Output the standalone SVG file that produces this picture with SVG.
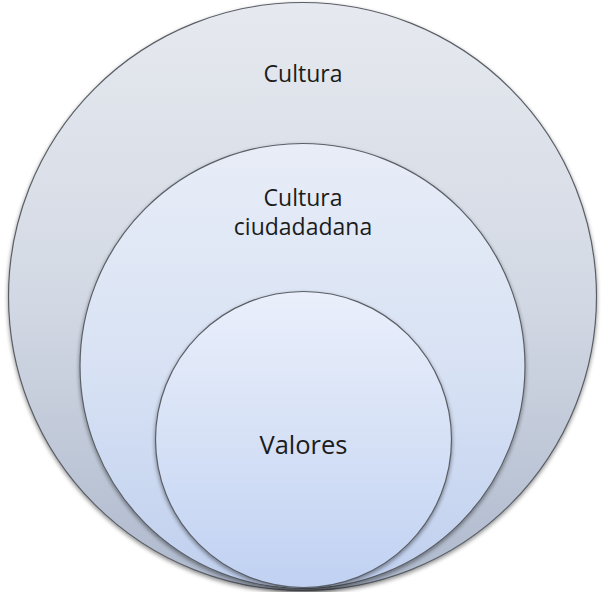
<svg xmlns="http://www.w3.org/2000/svg" width="601" height="592" viewBox="0 0 601 592">
<defs>
<linearGradient id="gOuter" x1="0" y1="0" x2="0" y2="1">
<stop offset="0" stop-color="#e6e9ef"/>
<stop offset="0.5" stop-color="#d3d9e4"/>
<stop offset="1" stop-color="#aeb9cd"/>
</linearGradient>
<linearGradient id="gMid" x1="0" y1="0" x2="0" y2="1">
<stop offset="0" stop-color="#e8edf7"/>
<stop offset="0.5" stop-color="#d8e2f4"/>
<stop offset="1" stop-color="#bfcfee"/>
</linearGradient>
<linearGradient id="gInner" x1="0" y1="0" x2="0" y2="1">
<stop offset="0" stop-color="#eaeffb"/>
<stop offset="0.5" stop-color="#d6e1f6"/>
<stop offset="1" stop-color="#c0d1f2"/>
</linearGradient>
<filter id="shadow" x="-10%" y="-10%" width="120%" height="120%">
<feGaussianBlur in="SourceAlpha" stdDeviation="2"/>
<feOffset dx="0" dy="2" result="b"/>
<feComponentTransfer><feFuncA type="linear" slope="0.45"/></feComponentTransfer>
<feMerge><feMergeNode/><feMergeNode in="SourceGraphic"/></feMerge>
</filter>
</defs>
<style>
.c{stroke:#5a5f66;stroke-width:1.2;filter:url(#shadow)}
.t{font-family:"Open Sans","Noto Sans",sans-serif;fill:#1c1c1c;text-anchor:middle}
</style>
<g id="cultura">
<circle class="c" cx="302.5" cy="296.5" r="294" fill="url(#gOuter)"/>
<text class="t" x="303" y="82" font-size="23">Cultura</text>
</g>
<g id="cultura-ciudadana">
<circle class="c" cx="302.5" cy="366" r="222.5" fill="url(#gMid)"/>
<text class="t" x="303" y="206" font-size="23">Cultura</text>
<text class="t" x="303" y="235" font-size="23">ciudadadana</text>
</g>
<g id="valores">
<circle class="c" cx="303.5" cy="439.5" r="148" fill="url(#gInner)"/>
<text class="t" x="303.5" y="454" font-size="25.5">Valores</text>
</g>
<g id="connectors"/>
</svg>
